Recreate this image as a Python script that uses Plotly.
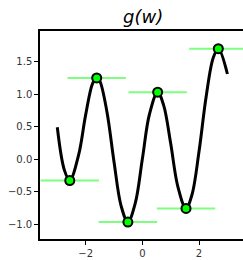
import plotly.graph_objects as go

# curve samples
w_vals = [-3.0, -2.75, -2.56, -2.25, -2.0, -1.75, -1.61, -1.5, -1.25, -1.0, -0.75, -0.51,
          -0.25, 0.0, 0.25, 0.54, 0.75, 1.0, 1.25, 1.54, 1.75, 2.0, 2.25, 2.5, 2.68, 3.0]
g_vals = [0.49, -0.17, -0.33, 0.06, 0.68, 1.17, 1.25, 1.20, 0.73, -0.04, -0.72, -0.97,
          -0.68, 0.0, 0.69, 1.03, 0.83, 0.24, -0.42, -0.76, -0.55, 0.12, 0.96, 1.56, 1.70, 1.31]

# stationary points
ext_w = [-2.56, -1.61, -0.51, 0.54, 1.54, 2.68]
ext_g = [-0.33, 1.25, -0.97, 1.03, -0.76, 1.70]
seg_half = 1.03

x_ticks = [-2, 0, 2]
x_labels = ["\u22122", "0", "2"]
y_ticks = [-1.0, -0.5, 0.0, 0.5, 1.0, 1.5]
y_labels = ["\u22121.0", "\u22120.5", "0.0", "0.5", "1.0", "1.5"]

fig = go.Figure()

# horizontal segments
for xw, yg in zip(ext_w, ext_g):
    fig.add_trace(go.Scatter(x=[xw - seg_half, xw + seg_half], y=[yg, yg], mode="lines",
                             line=dict(color="#7fff7f", width=2), hoverinfo="skip",
                             showlegend=False))

fig.add_trace(go.Scatter(x=w_vals, y=g_vals, mode="lines",
                         line=dict(color="black", width=3, shape="spline", smoothing=1.0),
                         showlegend=False))

fig.add_trace(go.Scatter(x=ext_w, y=ext_g, mode="markers",
                         marker=dict(color="#00ff00", size=9, line=dict(color="black", width=2)),
                         showlegend=False, cliponaxis=False))

axis_font = dict(family="DejaVu Sans", size=10, color="#333333")
fig.update_layout(
    width=243, height=260,
    margin=dict(l=40, r=0, t=31, b=21),
    plot_bgcolor="white", paper_bgcolor="white",
    annotations=[dict(text="g(w)", xref="paper", yref="paper", x=(143 - 40) / 203.0, y=1.0,
                      yshift=15, xanchor="center", yanchor="middle", showarrow=False,
                      font=dict(family="DejaVu Sans", size=18, color="black", style="italic"))],
    xaxis=dict(range=[-3.61, 3.55], tickvals=x_ticks, ticktext=x_labels, showgrid=False,
               zeroline=False, showline=True, linecolor="black", linewidth=1.5, mirror=True,
               ticks="outside", ticklen=4, tickwidth=1, tickcolor="black", tickfont=axis_font),
    yaxis=dict(range=[-1.231, 1.972], tickvals=y_ticks, ticktext=y_labels, showgrid=False,
               zeroline=False, showline=True, linecolor="black", linewidth=1.5,
               ticks="outside", ticklen=4, tickwidth=1, tickcolor="black", tickfont=axis_font),
)

fig.write_html("out.html", config={"displayModeBar": False},
               post_script="document.body.style.margin='0';document.body.style.overflow='hidden';")
